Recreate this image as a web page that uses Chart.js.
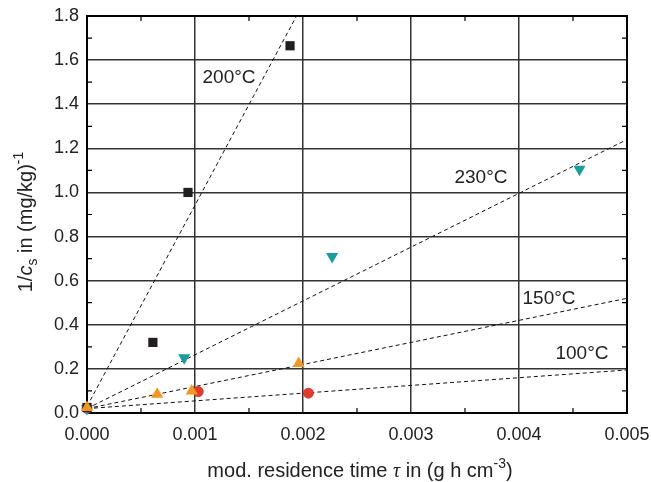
<!DOCTYPE html>
<html>
<head>
<meta charset="utf-8">
<script src="https://cdn.jsdelivr.net/npm/chart.js@4.4.1/dist/chart.umd.min.js"></script>
<style>
  html, body { margin: 0; padding: 0; background: #fff; }
  #wrap { width: 651px; height: 482px; }
</style>
</head>
<body>
<div id="wrap"><canvas id="residenceChart" width="651" height="482"></canvas></div>
<script>
// measured points, tau in g h cm^-3, 1/c_s in (mg/kg)^-1
const tempLabels = ['200°C', '230°C', '150°C', '100°C'];

const tau200 = [0, 0.00061, 0.000935, 0.00188];
const inv200 = [0.025, 0.32, 1.0, 1.665];

const tau230 = [0, 0.0009, 0.00227, 0.00456];
const inv230 = [0.02, 0.25, 0.71, 1.105];

const tau150 = [0, 0.00065, 0.00097, 0.00196];
const inv150 = [0.025, 0.085, 0.10, 0.225];

const tau100 = [0, 0.00103, 0.00205];
const inv100 = [0.02, 0.097, 0.09];

// linear fits (start and end of each dashed line)
const fitTau200 = [0, 0.00194];
const fitInv200 = [0.03, 1.8];
const fitTau230 = [0, 0.005];
const fitInv230 = [0.02, 1.24];
const fitTau150 = [0, 0.005];
const fitInv150 = [0.02, 0.52];
const fitTau100 = [0, 0.005];
const fitInv100 = [0.02, 0.195];

const xTicks = [0, 0.001, 0.002, 0.003, 0.004, 0.005];
const yTicks = [0, 0.2, 0.4, 0.6, 0.8, 1.0, 1.2, 1.4, 1.6, 1.8];

function pts(xs, ys) {
  return xs.map((x, i) => ({ x: x, y: ys[i] }));
}

function fitLine(xs, ys) {
  return {
    data: pts(xs, ys),
    showLine: true,
    borderColor: '#111',
    borderWidth: 1,
    borderDash: [4, 3],
    pointRadius: 0,
    order: 2
  };
}

const FONT = '"Liberation Sans", Arial, sans-serif';

// draws a run of text pieces (normal / italic / sub / sup), centred on x = 0, baseline y = 0
function drawRich(ctx, parts, size) {
  const fontOf = p => {
    const s = p.small ? Math.round(size * 0.68) : size;
    const fam = p.serif ? '"Liberation Serif", "Times New Roman", serif' : FONT;
    return (p.italic ? 'italic ' : '') + s + 'px ' + fam;
  };
  let total = 0;
  parts.forEach(p => { ctx.font = fontOf(p); total += ctx.measureText(p.t).width; });
  let x = -total / 2;
  ctx.textBaseline = 'alphabetic';
  ctx.textAlign = 'left';
  parts.forEach(p => {
    ctx.font = fontOf(p);
    ctx.fillText(p.t, x, p.dy || 0);
    x += ctx.measureText(p.t).width;
  });
}

const decorations = {
  id: 'decorations',
  beforeDatasetsDraw(chart) {
    const { ctx, chartArea: a, scales } = chart;
    ctx.save();
    ctx.strokeStyle = '#000';
    ctx.lineWidth = 1.2;
    // minor ticks pointing inward on all four sides
    ctx.beginPath();
    for (let v = 0.0005; v < 0.005; v += 0.001) {
      const px = scales.x.getPixelForValue(v);
      ctx.moveTo(px, a.bottom); ctx.lineTo(px, a.bottom - 5);
      ctx.moveTo(px, a.top); ctx.lineTo(px, a.top + 5);
    }
    for (let v = 0.1; v < 1.8; v += 0.2) {
      const py = scales.y.getPixelForValue(v);
      ctx.moveTo(a.left, py); ctx.lineTo(a.left + 5, py);
      ctx.moveTo(a.right, py); ctx.lineTo(a.right - 5, py);
    }
    ctx.stroke();
    // frame
    ctx.lineWidth = 2;
    ctx.strokeRect(a.left, a.top, a.right - a.left, a.bottom - a.top);
    ctx.restore();
  },
  afterDatasetsDraw(chart) {
    const { ctx, scales } = chart;
    // series labels next to the fit lines
    const spots = [
      { x: 0.001315, y: 1.52 },
      { x: 0.003648, y: 1.066 },
      { x: 0.004278, y: 0.517 },
      { x: 0.004583, y: 0.268 }
    ];
    ctx.save();
    ctx.fillStyle = '#222';
    ctx.font = '19px ' + FONT;
    ctx.textAlign = 'center';
    ctx.textBaseline = 'middle';
    tempLabels.forEach((t, i) => {
      ctx.fillText(t, scales.x.getPixelForValue(spots[i].x), scales.y.getPixelForValue(spots[i].y));
    });
    ctx.restore();
  },
  afterDraw(chart) {
    const { ctx } = chart;
    ctx.save();
    ctx.fillStyle = '#222';
    // x axis title
    ctx.translate(360, 477);
    drawRich(ctx, [
      { t: 'mod. residence time ' },
      { t: 'τ', italic: true, serif: true },
      { t: ' in (g h cm' },
      { t: '-3', small: true, dy: -9 },
      { t: ')' }
    ], 20);
    ctx.restore();

    ctx.save();
    ctx.fillStyle = '#222';
    // y axis title
    ctx.translate(32, 222);
    ctx.rotate(-Math.PI / 2);
    drawRich(ctx, [
      { t: '1/' },
      { t: 'c', italic: true },
      { t: 's', small: true, dy: 5 },
      { t: ' in (mg/kg)' },
      { t: '-1', small: true, dy: -9 }
    ], 20);
    ctx.restore();
  }
};

const ctx = document.getElementById('residenceChart').getContext('2d');

new Chart(ctx, {
  type: 'scatter',
  data: {
    datasets: [
      fitLine(fitTau200, fitInv200),
      fitLine(fitTau230, fitInv230),
      fitLine(fitTau150, fitInv150),
      fitLine(fitTau100, fitInv100),
      {
        label: tempLabels[0],
        data: pts(tau200, inv200),
        pointStyle: 'rect',
        pointRadius: 6.5,
        backgroundColor: '#231f20',
        borderColor: '#231f20',
        borderWidth: 0,
        clip: false,
        order: 1
      },
      {
        label: tempLabels[1],
        data: pts(tau230, inv230),
        pointStyle: 'triangle',
        rotation: 180,
        pointRadius: 7,
        backgroundColor: '#199e9e',
        borderColor: '#199e9e',
        borderWidth: 0,
        clip: false,
        order: 1
      },
      {
        label: tempLabels[2],
        data: pts(tau150, inv150),
        pointStyle: 'triangle',
        pointRadius: 7,
        backgroundColor: '#f7961d',
        borderColor: '#f7961d',
        borderWidth: 0,
        clip: false,
        order: 0
      },
      {
        label: tempLabels[3],
        data: pts(tau100, inv100),
        pointStyle: 'circle',
        pointRadius: 5,
        backgroundColor: '#e43a2a',
        borderColor: '#c92d22',
        borderWidth: 0.8,
        clip: false,
        order: 1
      }
    ]
  },
  options: {
    responsive: false,
    animation: false,
    layout: {
      autoPadding: false,
      padding: { left: 0, top: 16, right: 24, bottom: 0 }
    },
    plugins: {
      legend: { display: false },
      tooltip: { enabled: false }
    },
    scales: {
      x: {
        type: 'linear',
        min: 0,
        max: 0.005,
        afterFit(scale) {
          scale.height = 69;
          scale.paddingLeft = 0;
          scale.paddingRight = 0;
        },
        afterBuildTicks(scale) { scale.ticks = xTicks.map(v => ({ value: v })); },
        grid: { color: '#333', lineWidth: 1.5, drawTicks: false },
        border: { display: false },
        ticks: {
          padding: 11,
          color: '#222',
          font: { family: FONT, size: 18 },
          callback: v => v.toFixed(3)
        }
      },
      y: {
        type: 'linear',
        min: 0,
        max: 1.8,
        afterFit(scale) {
          scale.width = 87;
          scale.paddingTop = 0;
          scale.paddingBottom = 0;
        },
        afterBuildTicks(scale) { scale.ticks = yTicks.map(v => ({ value: v })); },
        grid: { color: '#333', lineWidth: 1.5, drawTicks: false },
        border: { display: false },
        ticks: {
          padding: 8,
          color: '#222',
          font: { family: FONT, size: 18 },
          callback: v => v.toFixed(1)
        }
      }
    }
  },
  plugins: [decorations]
});
</script>
</body>
</html>
